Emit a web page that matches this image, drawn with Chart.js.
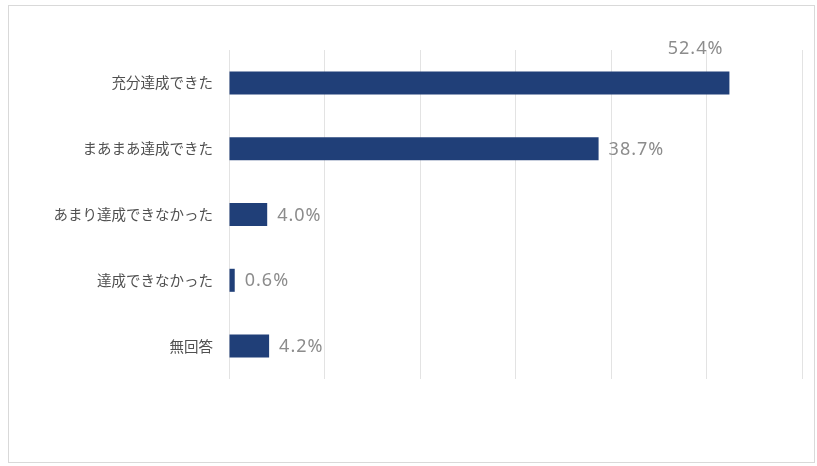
<!DOCTYPE html>
<html>
<head>
<meta charset="utf-8">
<script src="https://cdn.jsdelivr.net/npm/chart.js@4"></script>
<style>
  body { margin: 0; background: #fff; }
  #wrap { width: 817px; height: 466px; }
</style>
</head>
<body>
<div id="wrap"><canvas id="barChart" width="817" height="466"></canvas></div>
<script>
// data
var categories = ['充分達成できた', 'まあまあ達成できた', 'あまり達成できなかった', '達成できなかった', '無回答'];
var values = [52.4, 38.7, 4.0, 0.6, 4.2];
var axisMin = 0, axisMax = 60, axisStep = 10;

// frame round the chart
var framePlugin = {
  id: 'frame',
  beforeDraw: function (chart) {
    var ctx = chart.ctx;
    ctx.save();
    ctx.fillStyle = '#fff';
    ctx.fillRect(0, 0, chart.width, chart.height);
    ctx.strokeStyle = '#d9d9d9';
    ctx.lineWidth = 1;
    ctx.strokeRect(8.5, 5.5, 806, 457);
    ctx.restore();
  }
};

// value labels; a bar that reaches near the right edge gets its label above it
var valueLabels = {
  id: 'valueLabels',
  afterDatasetsDraw: function (chart) {
    var ctx = chart.ctx;
    var meta = chart.getDatasetMeta(0);
    ctx.save();
    ctx.font = '18px "Noto Sans", "Open Sans", sans-serif';
    ctx.letterSpacing = '1px';
    ctx.fillStyle = '#8c8c8c';
    ctx.textBaseline = 'middle';
    meta.data.forEach(function (bar, i) {
      var txt = values[i].toFixed(1) + '%';
      var w = ctx.measureText(txt).width;
      if (bar.x + 10 + w > chart.chartArea.right - 20) {
        ctx.textAlign = 'right';
        ctx.fillText(txt, bar.x - 6, bar.y - 34);
      } else {
        ctx.textAlign = 'left';
        ctx.fillText(txt, bar.x + 10, bar.y + 1);
      }
    });
    ctx.restore();
  }
};

var ctx = document.getElementById('barChart').getContext('2d');
new Chart(ctx, {
  type: 'bar',
  data: {
    labels: categories,
    datasets: [{
      data: values,
      backgroundColor: '#203f78',
      borderWidth: 0,
      categoryPercentage: 1,
      barPercentage: 0.35
    }]
  },
  options: {
    indexAxis: 'y',
    responsive: false,
    animation: false,
    layout: { padding: { left: 0, top: 50, right: 15, bottom: 87 } },
    plugins: {
      legend: { display: false },
      tooltip: { enabled: false }
    },
    scales: {
      x: {
        min: axisMin,
        max: axisMax,
        ticks: { display: false, stepSize: axisStep },
        grid: { color: '#e3e3e3', drawTicks: false },
        border: { display: false }
      },
      y: {
        afterFit: function (scale) { scale.width = 229; },
        ticks: {
          color: '#505050',
          padding: 16,
          font: { family: '"Noto Sans CJK JP", sans-serif', size: 14.5 }
        },
        grid: { display: false, drawTicks: false },
        border: { display: false }
      }
    }
  },
  plugins: [framePlugin, valueLabels]
});
</script>
</body>
</html>
